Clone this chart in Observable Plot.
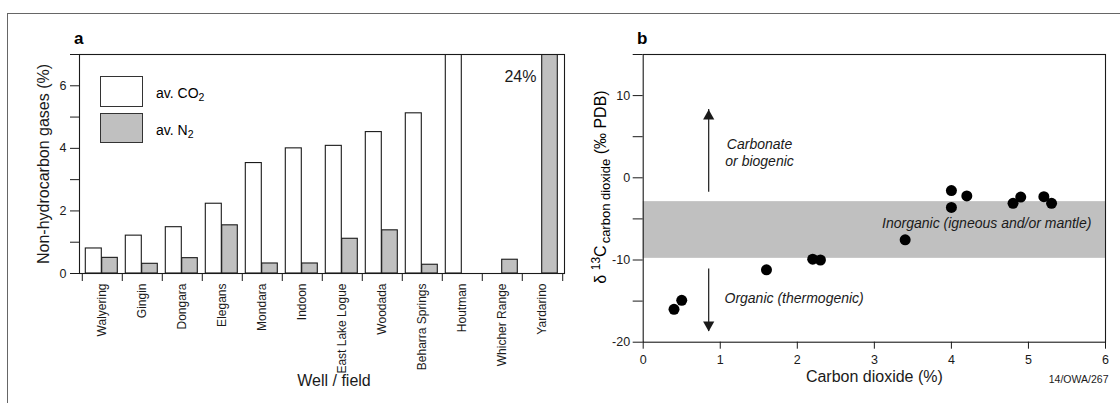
<!DOCTYPE html>
<html><head><meta charset="utf-8">
<script src="https://cdn.jsdelivr.net/npm/d3@7"></script>
<script src="https://cdn.jsdelivr.net/npm/@observablehq/plot@0.6"></script>
<style>
body{margin:0;background:#fff;}
#wrap{position:relative;width:1120px;height:403px;overflow:hidden;font-family:"Liberation Sans",Arial,sans-serif;color:#000;}
#frame{position:absolute;left:7px;top:13px;width:1120px;height:400px;border-top:1.5px solid #666;border-left:1.5px solid #666;}
.abs{position:absolute;white-space:nowrap;}
#pa,#pb{position:absolute;top:0;}
#pa{left:0;} #pb{left:580px;}
.panel{font-weight:bold;font-size:17px;line-height:17px;}
.sw{position:absolute;box-sizing:border-box;border:1.2px solid #333;}
.lg{font-size:14px;line-height:15px;}
.lg sub{font-size:10.5px;vertical-align:-3px;}
#ylabB{font-size:16px;line-height:16px;transform:translate(-50%,-50%) rotate(-90deg);}
#ylabB sup{font-size:12px;vertical-align:6px;}
#ylabB sub{font-size:13px;vertical-align:-4px;margin-left:2px;}
</style></head><body>
<div id="wrap">
  <div id="frame"></div>
  <div id="pa"></div>
  <div id="pb"></div>
  <div class="abs panel" style="left:74px;top:30px;">a</div>
  <div class="abs panel" style="left:637px;top:30px;">b</div>
  <div class="sw" style="left:100px;top:76px;width:43px;height:31px;background:#fff;"></div>
  <div class="sw" style="left:100px;top:113px;width:43px;height:30px;background:#c0c0c0;"></div>
  <div class="abs lg" style="left:156px;top:86px;">av. CO<sub>2</sub></div>
  <div class="abs lg" style="left:156px;top:123px;">av. N<sub>2</sub></div>
  <div class="abs" id="ylabB" style="left:601px;top:187px;">δ <sup>13</sup>C<sub>carbon dioxide</sub> (‰ PDB)</div>
</div>
<script>
// ---- Panel a data ----
const wells = ["Walyering","Gingin","Dongara","Elegans","Mondara","Indoon","East Lake Logue","Woodada","Beharra Springs","Houtman","Whicher Range","Yardarino"];
const avCO2 = [0.8,1.21,1.48,2.23,3.53,4.0,4.08,4.52,5.12,9,null,null];
const avN2  = [0.5,0.31,0.49,1.54,0.32,0.32,1.11,1.38,0.28,null,0.44,24];
const yTicksA = [0,1,2,3,4,5,6,7];
const xTitleA = "Well / field";
const yTitleA = "Non-hydrocarbon gases (%)";

// ---- Panel b data ----
const co2Pct = [0.4,0.5,1.6,2.2,2.3,3.4,4.0,4.0,4.2,4.8,4.9,5.2,5.3];
const d13C   = [-16,-14.9,-11.2,-9.9,-10,-7.55,-1.55,-3.6,-2.2,-3.1,-2.35,-2.3,-3.1];
const inorganicBand = [-2.9,-9.8];
const xTicksB = [0,1,2,3,4,5,6];
const yTicksB = [-20,-15,-10,-5,0,5,10,15];
const arrowX = [0.85,0.85];
const arrowFrom = [-1.75,-11.1];
const arrowTo = [8.3,-18.7];
const noteText = ["Carbonate\nor biogenic","Organic (thermogenic)","Inorganic (igneous and/or mantle)"];
const noteX = [1.51,1.055,3.1];
const noteY = [3.1,-14.7,-5.57];
const xTitleB = "Carbon dioxide (%)";
const credit = "14/OWA/267";

const regular = '"Liberation Sans",Arial,sans-serif';
const ink = "#1a1a1a";

// ---- Panel a ----
const WA = 580, H = 403, mlA = 79, mrA = 16;
const bw = (WA - mlA - mrA) / wells.length;
const co2Bars = wells.map((w,i)=>({well:w, value:avCO2[i]})).filter(d=>d.value!=null);
const n2Bars = wells.map((w,i)=>({well:w, value:avN2[i]})).filter(d=>d.value!=null);
const offscale = [{well: wells[11], label: avN2[11] + "%"}];

const chartA = Plot.plot({
  width: WA, height: H,
  marginLeft: mlA, marginRight: mrA, marginTop: 54, marginBottom: 130,
  style: {background: "transparent", fontFamily: regular, fontSize: "12px", color: ink},
  x: {type: "band", domain: wells, padding: 0},
  y: {domain: [0, 7]},
  marks: [
    Plot.barY(co2Bars, {x: "well", y: "value", fill: "white", stroke: ink, strokeWidth: 1.1, insetLeft: 3.3, insetRight: 20.7, clip: true}),
    Plot.barY(n2Bars, {x: "well", y: "value", fill: "#c0c0c0", stroke: ink, strokeWidth: 1.1, insetLeft: 19.7, insetRight: 4.7, clip: true}),
    Plot.frame({stroke: ink, strokeWidth: 1.1}),
    Plot.axisY({ticks: yTicksA, tickSize: 9, tickPadding: 4, tickFormat: d => d % 2 === 0 ? String(d) : "", label: null, fontSize: 12.5}),
    Plot.axisX({ticks: wells, tickSize: 8, tickFormat: () => "", dx: -bw/2, label: null}),
    Plot.axisX({ticks: wells.slice(-1), tickSize: 8, tickFormat: () => "", dx: bw/2, label: null}),
    Plot.text(wells, {x: d => d, frameAnchor: "bottom", rotate: -90, textAnchor: "end", lineAnchor: "middle", dy: 10, fontSize: 12}),
    Plot.text([xTitleA], {frameAnchor: "bottom", textAnchor: "middle", dy: 112, dx: 12, fontSize: 16}),
    Plot.text([yTitleA], {frameAnchor: "left", rotate: -90, textAnchor: "middle", lineAnchor: "middle", dx: -36, fontSize: 16}),
    Plot.text(offscale, {x: "well", text: "label", frameAnchor: "top", textAnchor: "end", dx: -6, dy: 16.5, fontSize: 16})
  ]
});
document.getElementById("pa").appendChild(chartA);

// ---- Panel b ----
const WB = 540;
const points = co2Pct.map((x,i)=>({x, y: d13C[i]}));
const band = [{y1: inorganicBand[0], y2: inorganicBand[1]}];
const arrows = arrowX.map((x,i)=>({x, from: arrowFrom[i], to: arrowTo[i]}));
const notes = noteText.map((t,i)=>({text: t, x: noteX[i], y: noteY[i]}));
const triUp = {draw(ctx){ ctx.moveTo(0,0); ctx.lineTo(5.6,10); ctx.lineTo(-5.6,10); ctx.closePath(); }};
const triDown = {draw(ctx){ ctx.moveTo(0,0); ctx.lineTo(5.6,-10); ctx.lineTo(-5.6,-10); ctx.closePath(); }};

const chartB = Plot.plot({
  width: WB, height: H,
  marginLeft: 62.7, marginRight: 15, marginTop: 54, marginBottom: 61.3,
  style: {background: "transparent", fontFamily: regular, fontSize: "12px", color: ink},
  x: {domain: [0, 6]},
  y: {domain: [-20, 15]},
  marks: [
    Plot.rect(band, {y1: "y1", y2: "y2", fill: "#c0c0c0"}),
    Plot.ruleX(arrows, {x: "x", y1: "from", y2: "to", stroke: ink, strokeWidth: 1.2}),
    Plot.dot(arrows.filter(d => d.to > d.from), {x: "x", y: "to", symbol: triUp, fill: ink, stroke: null, r: 5}),
    Plot.dot(arrows.filter(d => d.to < d.from), {x: "x", y: "to", symbol: triDown, fill: ink, stroke: null, r: 5}),
    Plot.dot(points, {x: "x", y: "y", r: 5.5, fill: "black", stroke: null}),
    Plot.text(notes.slice(0,1), {x: "x", y: "y", text: "text", textAnchor: "middle", fontSize: 14, fontStyle: "italic", lineHeight: 1.15}),
    Plot.text(notes.slice(1), {x: "x", y: "y", text: "text", textAnchor: "start", fontSize: 14, fontStyle: "italic"}),
    Plot.frame({stroke: ink, strokeWidth: 1.1}),
    Plot.axisY({ticks: yTicksB, tickSize: 10, tickPadding: 3, tickFormat: d => d % 10 === 0 ? String(d) : "", label: null, fontSize: 12.5}),
    Plot.axisX({ticks: xTicksB, tickSize: 7, tickPadding: 6, tickFormat: d => String(d), label: null, fontSize: 12.5}),
    Plot.text([xTitleB], {frameAnchor: "bottom", textAnchor: "middle", dy: 40, fontSize: 16}),
    Plot.text([credit], {frameAnchor: "bottom-right", textAnchor: "end", dx: 3, dy: 41, fontSize: 10.5})
  ]
});
document.getElementById("pb").appendChild(chartB);
</script>
</body></html>
